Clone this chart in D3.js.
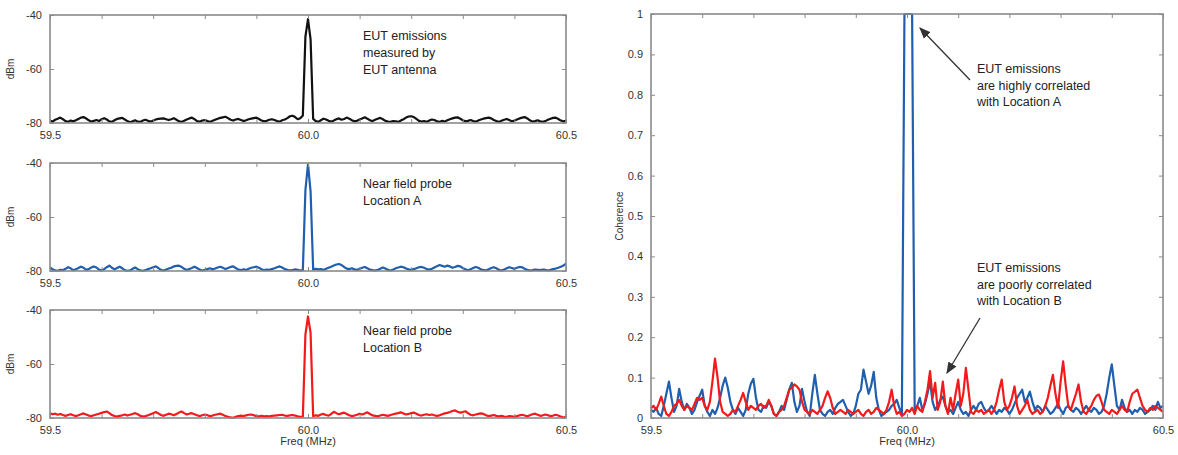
<!DOCTYPE html>
<html>
<head>
<meta charset="utf-8">
<script src="https://cdn.jsdelivr.net/npm/d3@7"></script>
<style>
  body { margin: 0; background: #fff; }
  svg { display: block; font-family: "Liberation Sans", Arial, Helvetica, sans-serif; }
</style>
</head>
<body>
<svg id="chart" width="1178" height="455"></svg>
<script>
// frequency grid, 0.005 MHz steps from 59.5 to 60.5
var freq = d3.range(201).map(function(i){ return +(59.5 + i * 0.005).toFixed(3); });

// spectra, dBm
var eutSpectrum = [
	-79.2,-79.5,-78.8,-78.4,-78.0,-78.6,-79.3,-79.6,-79.1,-79.4,
	-79.0,-78.5,-78.0,-77.8,-78.3,-79.0,-79.5,-79.2,-78.9,-79.3,
	-78.6,-78.2,-78.7,-79.4,-79.6,-79.0,-78.5,-78.3,-78.1,-78.7,
	-79.3,-79.7,-79.4,-79.0,-79.5,-79.6,-79.1,-78.8,-79.2,-79.5,
	-79.1,-78.7,-78.5,-78.4,-78.3,-78.6,-78.9,-78.6,-78.2,-78.8,
	-79.4,-79.6,-79.2,-78.7,-78.3,-78.0,-78.6,-79.3,-79.5,-79.1,
	-78.9,-79.3,-79.6,-79.2,-78.8,-78.4,-78.1,-77.9,-77.7,-78.2,
	-78.8,-79.1,-78.7,-78.5,-78.9,-79.3,-79.0,-78.6,-78.4,-78.2,
	-78.0,-78.5,-79.1,-79.4,-79.2,-78.8,-78.6,-78.9,-79.3,-79.5,
	-79.0,-78.7,-78.2,-77.5,-77.3,-77.8,-78.6,-78.2,-77.2,-48.0,
	-41.5,-49.0,-78.5,-79.3,-79.6,-79.0,-78.4,-78.7,-79.2,-79.5,
	-79.1,-78.6,-78.3,-78.8,-78.5,-78.0,-78.4,-79.0,-79.4,-79.2,
	-78.7,-78.3,-77.9,-78.4,-79.0,-79.3,-78.8,-78.4,-78.1,-78.6,
	-79.2,-79.5,-79.6,-79.3,-79.4,-79.6,-79.1,-78.6,-78.0,-77.6,
	-77.5,-77.8,-78.5,-79.2,-79.5,-79.3,-79.6,-79.1,-78.7,-78.9,
	-79.4,-79.6,-79.2,-79.5,-79.0,-78.6,-78.3,-78.0,-77.9,-78.4,
	-79.0,-79.4,-79.2,-78.9,-79.3,-79.5,-79.1,-78.7,-78.4,-78.2,
	-78.0,-78.3,-78.9,-79.3,-79.6,-79.2,-78.8,-78.5,-78.9,-79.4,
	-79.1,-78.7,-78.3,-78.0,-77.8,-78.3,-79.0,-79.5,-79.3,-79.0,
	-79.4,-79.6,-79.3,-78.8,-78.4,-78.1,-78.0,-78.5,-79.1,-79.4,
	-79.2
];
var probeASpectrum = [
	-78.6,-79.4,-79.8,-79.9,-79.6,-79.7,-79.2,-78.6,-79.0,-79.7,
	-79.4,-78.9,-78.4,-78.8,-79.6,-79.3,-78.7,-78.3,-78.7,-79.5,
	-79.8,-79.3,-78.6,-78.0,-78.8,-79.4,-78.9,-78.4,-79.0,-79.7,
	-79.9,-79.8,-79.2,-78.7,-79.3,-79.8,-79.9,-79.7,-79.3,-79.0,
	-78.6,-78.3,-78.9,-79.6,-79.8,-79.5,-79.1,-78.8,-78.3,-78.1,
	-78.0,-78.5,-79.2,-79.6,-79.3,-78.9,-78.4,-78.9,-79.5,-79.8,
	-79.6,-79.3,-79.0,-79.4,-79.1,-78.7,-78.4,-78.8,-79.3,-78.9,
	-78.5,-78.3,-78.9,-79.5,-79.7,-79.4,-79.6,-79.2,-78.8,-78.6,
	-78.4,-78.8,-79.4,-79.7,-79.5,-79.6,-79.3,-79.0,-78.6,-78.3,
	-78.7,-79.3,-79.6,-79.8,-79.7,-79.4,-79.6,-79.8,-79.7,-50.0,
	-40.5,-50.5,-79.5,-79.2,-79.4,-79.3,-79.6,-79.2,-78.8,-78.4,
	-78.0,-77.6,-77.4,-77.8,-78.5,-79.1,-79.3,-79.0,-79.4,-79.6,
	-79.2,-78.8,-78.5,-79.0,-79.5,-79.7,-79.8,-79.6,-79.2,-78.7,
	-79.1,-79.6,-79.8,-79.5,-79.0,-78.7,-78.4,-78.6,-79.1,-79.4,
	-79.6,-79.3,-79.0,-78.6,-78.5,-78.8,-79.3,-79.5,-79.2,-78.7,
	-78.2,-77.8,-78.1,-78.4,-78.0,-78.3,-78.8,-78.5,-78.1,-78.3,
	-78.9,-79.4,-79.7,-79.4,-78.9,-78.5,-78.8,-79.4,-79.7,-79.8,
	-79.4,-78.9,-78.6,-79.0,-79.6,-79.8,-79.5,-79.0,-78.6,-78.9,
	-79.2,-78.8,-78.5,-78.6,-79.2,-79.6,-79.8,-79.7,-79.5,-79.6,
	-79.7,-79.5,-79.6,-79.8,-79.6,-79.3,-79.1,-78.8,-78.4,-78.0,
	-77.3
];
var probeBSpectrum = [
	-78.3,-78.6,-78.4,-78.8,-78.5,-78.9,-79.2,-78.9,-78.6,-79.0,
	-79.3,-79.0,-78.6,-78.3,-78.7,-79.1,-79.3,-79.0,-78.7,-78.4,
	-78.1,-77.8,-77.6,-78.2,-78.9,-79.3,-79.5,-79.2,-79.0,-78.7,
	-79.1,-78.8,-78.5,-78.2,-78.6,-79.2,-79.5,-79.3,-79.0,-78.6,
	-78.2,-77.8,-78.3,-78.9,-79.2,-78.8,-78.4,-78.6,-79.0,-78.5,
	-78.0,-77.6,-78.2,-78.7,-78.4,-78.2,-78.6,-79.0,-79.3,-79.0,
	-78.7,-79.0,-79.3,-79.1,-78.8,-78.6,-78.4,-78.8,-79.3,-79.6,
	-79.8,-79.9,-79.6,-79.3,-79.1,-79.3,-79.0,-78.8,-78.7,-79.0,
	-79.3,-79.4,-79.2,-79.4,-79.3,-79.4,-79.2,-79.1,-79.0,-78.9,
	-78.8,-79.1,-79.2,-79.0,-78.9,-79.1,-79.4,-79.6,-79.5,-49.0,
	-42.4,-48.5,-79.3,-79.0,-79.2,-78.7,-78.5,-78.9,-79.1,-78.5,
	-77.7,-78.2,-78.6,-78.3,-78.0,-78.5,-79.0,-79.3,-79.1,-78.8,
	-78.4,-78.7,-78.3,-77.9,-78.5,-79.0,-79.2,-79.4,-79.1,-78.8,
	-79.0,-79.2,-78.9,-78.6,-78.4,-78.2,-77.9,-78.3,-78.7,-78.5,
	-78.2,-78.0,-78.4,-78.9,-79.1,-78.8,-78.6,-78.9,-78.7,-79.0,
	-79.2,-79.0,-78.6,-78.3,-78.1,-77.8,-77.4,-77.2,-77.7,-78.0,
	-77.8,-77.5,-78.2,-78.8,-79.0,-78.7,-78.5,-78.3,-78.5,-79.0,
	-79.3,-79.1,-78.9,-79.2,-79.4,-79.2,-79.5,-79.6,-79.3,-79.4,
	-79.6,-79.3,-79.0,-78.8,-79.1,-79.4,-79.0,-78.6,-78.4,-78.8,
	-79.2,-79.0,-78.7,-79.0,-79.3,-79.1,-78.8,-79.1,-79.5,-79.8,
	-79.6
];

// coherence of EUT antenna with each probe location
var coherenceA = [
	0.02,0.015,0.025,0.01,0.005,0.03,0.06,0.09,0.05,0.015,
	0.03,0.072,0.04,0.02,0.035,0.025,0.01,0.02,0.04,0.055,
	0.07,0.03,0.015,0.005,0.02,0.01,0.025,0.05,0.08,0.1,
	0.075,0.04,0.02,0.01,0.025,0.015,0.005,0.02,0.06,0.085,
	0.097,0.05,0.02,0.015,0.03,0.025,0.04,0.03,0.01,0.005,
	0.015,0.03,0.02,0.045,0.07,0.087,0.04,0.015,0.03,0.072,
	0.04,0.015,0.005,0.06,0.107,0.06,0.02,0.01,0.005,0.015,
	0.02,0.01,0.025,0.035,0.04,0.045,0.03,0.015,0.005,0.01,
	0.03,0.06,0.07,0.12,0.09,0.06,0.08,0.114,0.05,0.02,
	0.005,0.01,0.015,0.02,0.03,0.035,0.045,0.025,0.01,1.0,
	1.0,1.0,1.0,0.02,0.03,0.05,0.02,0.035,0.06,0.09,
	0.04,0.02,0.03,0.045,0.053,0.03,0.015,0.02,0.01,0.025,
	0.04,0.02,0.01,0.015,0.005,0.02,0.03,0.02,0.035,0.04,
	0.025,0.015,0.02,0.03,0.02,0.01,0.02,0.015,0.025,0.02,
	0.01,0.02,0.035,0.05,0.06,0.07,0.04,0.05,0.065,0.04,
	0.02,0.03,0.025,0.015,0.03,0.02,0.01,0.015,0.025,0.035,
	0.02,0.01,0.025,0.03,0.02,0.015,0.025,0.02,0.01,0.02,
	0.03,0.02,0.015,0.025,0.02,0.01,0.015,0.03,0.06,0.1,
	0.133,0.08,0.03,0.02,0.045,0.025,0.015,0.02,0.01,0.02,
	0.015,0.025,0.02,0.01,0.015,0.02,0.03,0.02,0.04,0.025,
	0.03
];
var coherenceB = [
	0.024,0.03,0.02,0.035,0.053,0.03,0.01,0.005,0.015,0.03,
	0.035,0.045,0.03,0.02,0.03,0.025,0.02,0.035,0.05,0.045,
	0.05,0.03,0.02,0.04,0.09,0.147,0.1,0.04,0.015,0.01,
	0.005,0.01,0.02,0.015,0.03,0.045,0.062,0.04,0.02,0.03,
	0.025,0.02,0.03,0.035,0.025,0.03,0.045,0.03,0.01,0.005,
	0.015,0.02,0.03,0.05,0.07,0.075,0.083,0.078,0.07,0.04,
	0.02,0.015,0.01,0.02,0.015,0.01,0.02,0.03,0.05,0.066,
	0.05,0.025,0.01,0.015,0.02,0.015,0.01,0.02,0.015,0.01,
	0.015,0.02,0.01,0.005,0.015,0.02,0.01,0.015,0.025,0.02,
	0.015,0.01,0.02,0.04,0.07,0.03,0.01,0.015,0.005,0.01,
	0.02,0.015,0.025,0.01,0.03,0.02,0.015,0.04,0.07,0.116,
	0.05,0.087,0.02,0.04,0.09,0.03,0.01,0.05,0.02,0.06,
	0.095,0.03,0.06,0.124,0.07,0.015,0.01,0.02,0.015,0.02,
	0.01,0.015,0.02,0.01,0.02,0.04,0.07,0.095,0.04,0.02,
	0.03,0.05,0.078,0.03,0.01,0.02,0.03,0.045,0.02,0.01,
	0.015,0.02,0.01,0.015,0.03,0.05,0.08,0.107,0.06,0.025,
	0.09,0.14,0.08,0.03,0.02,0.04,0.06,0.083,0.04,0.015,
	0.01,0.02,0.03,0.045,0.055,0.058,0.04,0.02,0.015,0.01,
	0.02,0.015,0.01,0.02,0.03,0.02,0.015,0.04,0.06,0.065,
	0.07,0.05,0.03,0.02,0.015,0.025,0.02,0.03,0.025,0.02,
	0.015
];

var xTicks = [59.5,59.6,59.7,59.8,59.9,60.0,60.1,60.2,60.3,60.4,60.5];
var xTickLabels = {"59.5": "59.5", "60": "60.0", "60.5": "60.5"};
var dbTicks = [-80,-60,-40];
var cohTicks = [0,0.1,0.2,0.3,0.4,0.5,0.6,0.7,0.8,0.9,1];
var cohTickLabels = ["0","0.1","0.2","0.3","0.4","0.5","0.6","0.7","0.8","0.9","1"];

var panels = [
	{series: eutSpectrum, color: "#111111", top: 15, text: ["EUT emissions", "measured by", "EUT antenna"]},
	{series: probeASpectrum, color: "#1f5fae", top: 163, text: ["Near field probe", "Location A"]},
	{series: probeBSpectrum, color: "#f21a1a", top: 310, text: ["Near field probe", "Location B"]}
];

var svg = d3.select("#chart");
var frameColor = "#8a8a8a";
var tickColor = "#8a8a8a";
var labelColor = "#333";

function boxAxes(g, x, y, xt, xfmt, yt, yfmt){
	var w = x.range()[1] - x.range()[0],
		h = y.range()[0] - y.range()[1];
	g.append("g").attr("transform", "translate(0," + h + ")")
		.call(d3.axisBottom(x).tickValues(xt).tickSize(-4).tickPadding(8).tickFormat(xfmt));
	g.append("g")
		.call(d3.axisTop(x).tickValues(xt).tickSize(-4).tickFormat(""));
	g.append("g")
		.call(d3.axisLeft(y).tickValues(yt).tickSize(-4).tickPadding(8).tickFormat(yfmt));
	g.append("g").attr("transform", "translate(" + w + ",0)")
		.call(d3.axisRight(y).tickValues(yt).tickSize(-4).tickFormat(""));
	g.selectAll(".domain").remove();
	g.selectAll(".tick line").attr("stroke", tickColor).attr("stroke-width", 1);
	g.selectAll(".tick text").attr("fill", labelColor).style("font-size", "11px");
	g.append("rect").attr("x", 0).attr("y", 0).attr("width", w).attr("height", h)
		.attr("fill", "none").attr("stroke", frameColor).attr("stroke-width", 1.6);
}

// left spectra
var xl = d3.scaleLinear().domain([59.5, 60.5]).range([0, 516]);
panels.forEach(function(p){
	var y = d3.scaleLinear().domain([-80, -40]).range([108, 0]);
	var g = svg.append("g").attr("transform", "translate(50," + p.top + ")");
	var line = d3.line().x(function(d, i){ return xl(freq[i]); }).y(function(d){ return y(d); });
	g.append("path").datum(p.series).attr("d", line)
		.attr("fill", "none").attr("stroke", p.color).attr("stroke-width", 2.2)
		.attr("stroke-linejoin", "round");
	boxAxes(g, xl, y, xTicks, function(d){ return xTickLabels[String(d)] || ""; }, dbTicks, function(d){ return String(d); });
	g.append("text").attr("transform", "translate(-36," + 54 + ") rotate(-90)")
		.attr("text-anchor", "middle").attr("fill", labelColor).style("font-size", "10px").text("dBm");
	p.text.forEach(function(t, k){
		g.append("text").attr("x", 313).attr("y", 25 + k * 17)
			.attr("fill", "#222").style("font-size", "12.5px").text(t);
	});
});
svg.append("text").attr("x", 308).attr("y", 445).attr("text-anchor", "middle")
	.attr("fill", labelColor).style("font-size", "11px").text("Freq (MHz)");

// coherence panel
var xr = d3.scaleLinear().domain([59.5, 60.5]).range([0, 512]);
var yr = d3.scaleLinear().domain([0, 1]).range([404, 0]);
var gr = svg.append("g").attr("transform", "translate(651,14)");
var cline = d3.line().x(function(d, i){ return xr(freq[i]); }).y(function(d){ return yr(d); });
gr.append("path").datum(coherenceA).attr("d", cline)
	.attr("fill", "none").attr("stroke", "#1f5fae").attr("stroke-width", 2.2).attr("stroke-linejoin", "round");
gr.append("path").datum(coherenceB).attr("d", cline)
	.attr("fill", "none").attr("stroke", "#f21a1a").attr("stroke-width", 2.2).attr("stroke-linejoin", "round");
boxAxes(gr, xr, yr, xTicks, function(d){ return xTickLabels[String(d)] || ""; }, cohTicks, function(d, i){ return cohTickLabels[i]; });
gr.append("text").attr("transform", "translate(-28,202) rotate(-90)")
	.attr("text-anchor", "middle").attr("fill", labelColor).style("font-size", "10px").text("Coherence");
svg.append("text").attr("x", 907).attr("y", 445).attr("text-anchor", "middle")
	.attr("fill", labelColor).style("font-size", "11px").text("Freq (MHz)");

// annotations
svg.append("defs").append("marker").attr("id", "arrow")
	.attr("viewBox", "0 0 10 10").attr("refX", 9).attr("refY", 5)
	.attr("markerWidth", 9).attr("markerHeight", 9).attr("orient", "auto")
	.append("path").attr("d", "M0,1 L10,5 L0,9 Z").attr("fill", "#333");
var notes = [
	{x: 977, y: 73, lines: ["EUT emissions", "are highly correlated", "with Location A"], from: [970, 80], to: [920, 28]},
	{x: 977, y: 272, lines: ["EUT emissions", "are poorly correlated", "with Location B"], from: [980, 318], to: [947, 373]}
];
notes.forEach(function(n){
	n.lines.forEach(function(t, k){
		svg.append("text").attr("x", n.x).attr("y", n.y + k * 16.5)
			.attr("fill", "#222").style("font-size", "12.5px").text(t);
	});
	svg.append("line").attr("x1", n.from[0]).attr("y1", n.from[1]).attr("x2", n.to[0]).attr("y2", n.to[1])
		.attr("stroke", "#333").attr("stroke-width", 1.3).attr("marker-end", "url(#arrow)");
});
</script>
</body>
</html>
